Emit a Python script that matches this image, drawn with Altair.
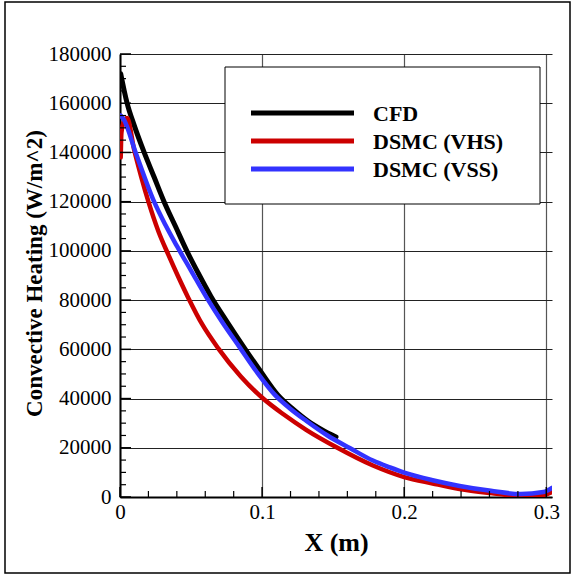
import altair as alt
import pandas as pd

# ---- data ----
cfd_x = [0.0005, 0.003, 0.005, 0.010, 0.017, 0.024, 0.031, 0.039, 0.047, 0.055, 0.064, 0.075,
         0.087, 0.099, 0.111, 0.122, 0.132, 0.142, 0.152]
cfd_y = [172000, 165000, 160000, 151000, 140000, 130000, 120000, 110000, 100000, 91000, 81500, 71500,
         61000, 51000, 41500, 35600, 31000, 27400, 24400]

vhs_x = [0.0005, 0.001, 0.003, 0.005, 0.010, 0.015, 0.020, 0.027, 0.034, 0.041, 0.048, 0.058,
         0.069, 0.085, 0.1007, 0.115, 0.131, 0.153, 0.178, 0.200, 0.220, 0.239,
         0.261, 0.282, 0.298, 0.304]
vhs_y = [138000, 148000, 153000, 154000, 141000, 130000, 120000, 108000, 98500, 89500, 81000, 70000,
         60500, 49000, 40000, 33600, 27300, 20000, 12800, 8100, 5500, 3250,
         1600, 400, 800, 2000]

vss_x = [0.0005, 0.003, 0.011, 0.024, 0.032, 0.040, 0.050, 0.061, 0.072, 0.084,
         0.096, 0.109, 0.120, 0.131, 0.146, 0.162, 0.178, 0.190, 0.200, 0.220, 0.239, 0.261,
         0.282, 0.298, 0.304]
vss_y = [155000, 153000, 140000, 120000, 110500, 102000, 92000, 81000, 71000, 61000,
         51000, 41500, 35800, 31000, 25000, 19800, 14800, 12000, 9900, 6800, 4500, 2500,
         1200, 2000, 3700]

series_names = ["CFD", "DSMC (VHS)", "DSMC (VSS)"]
series_colors = ["#000000", "#cc0000", "#3333ff"]

x_major = [0, 0.1, 0.2, 0.3]
x_minor = [0.02, 0.04, 0.06, 0.08, 0.12, 0.14, 0.16, 0.18, 0.22, 0.24, 0.26, 0.28]
y_major = list(range(0, 180001, 20000))
y_minor = [v for v in range(0, 180001, 5000) if v % 20000 != 0]

FONT = "Liberation Serif"
W, H = 432, 443
XDOM = [0, 0.304]
YDOM = [0, 180000]

xs = alt.Scale(domain=XDOM, nice=False, zero=False)
ys = alt.Scale(domain=YDOM, nice=False)

x_axis = alt.Axis(
    values=x_major, format="~g", title="X (m)", grid=True, gridColor="#555555", gridWidth=1.2,
    ticks=False, domain=True, domainColor="#000000", domainWidth=2,
    labelFont=FONT, labelFontSize=21, labelColor="#000000", labelPadding=4,
    labelFlush=False,
    titleFont=FONT, titleFontSize=26, titleFontWeight="bold", titleColor="#000000",
    titleBaseline="alphabetic", titleY=53, titleX=W / 2, titleAlign="center",
)
y_axis = alt.Axis(
    values=y_major, format="d", title="Convective Heating (W/m^2)", grid=True,
    gridColor="#222222", gridWidth=1,
    ticks=False, domain=True, domainColor="#000000", domainWidth=2,
    labelFont=FONT, labelFontSize=21, labelColor="#000000", labelPadding=9,
    labelBaseline="middle", labelFlush=False,
    titleFont=FONT, titleFontSize=23, titleFontWeight="bold", titleColor="#000000",
    titleAngle=270, titleX=-86, titleY=219, titleAlign="center", titleBaseline="middle",
)


def series_layer(xv, yv, color, width):
    df = pd.DataFrame({"x": xv, "y": yv, "i": range(len(xv))})
    return alt.Chart(df).mark_line(color=color, strokeWidth=width, strokeJoin="round",
                                   strokeCap="round", interpolate="monotone", clip=True).encode(
        x=alt.X("x:Q", scale=xs, axis=x_axis),
        y=alt.Y("y:Q", scale=ys, axis=y_axis),
        order="i:Q")


cfd = series_layer(cfd_x, cfd_y, series_colors[0], 5)
vhs = series_layer(vhs_x, vhs_y, series_colors[1], 4.5)
vss = series_layer(vss_x, vss_y, series_colors[2], 4.5)

# inward ticks
xt_major = alt.Chart(pd.DataFrame({"t": x_major})).mark_rule(color="#000", strokeWidth=1.5).encode(
    x=alt.X("t:Q", scale=xs, axis=x_axis), y=alt.value(H), y2=alt.value(H - 10))
xt_minor = alt.Chart(pd.DataFrame({"t": x_minor})).mark_rule(color="#000", strokeWidth=1.2).encode(
    x=alt.X("t:Q", scale=xs, axis=x_axis), y=alt.value(H), y2=alt.value(H - 6))
yt_major = alt.Chart(pd.DataFrame({"t": y_major})).mark_rule(color="#000", strokeWidth=1.5).encode(
    y=alt.Y("t:Q", scale=ys, axis=y_axis), x=alt.value(0), x2=alt.value(11))
yt_minor = alt.Chart(pd.DataFrame({"t": y_minor})).mark_rule(color="#000", strokeWidth=1.2).encode(
    y=alt.Y("t:Q", scale=ys, axis=y_axis), x=alt.value(0), x2=alt.value(6))

one = pd.DataFrame({"a": [0]})

# legend box
legend_box = alt.Chart(one).mark_rect(fill="white", stroke="#000", strokeWidth=1).encode(
    x=alt.value(105), x2=alt.value(420), y=alt.value(13), y2=alt.value(150))

legend_layers = []
for k, (name, col) in enumerate(zip(series_names, series_colors)):
    yy = 59 + 28 * k
    legend_layers.append(
        alt.Chart(one).mark_rule(color=col, strokeWidth=5).encode(
            x=alt.value(131), x2=alt.value(234), y=alt.value(yy)))
    legend_layers.append(
        alt.Chart(one).mark_text(text=name, font=FONT, fontSize=22, fontWeight="bold",
                                 align="left", baseline="middle", color="#000").encode(
            x=alt.value(253), y=alt.value(yy + 1)))

# outer frame
frame = alt.Chart(one).mark_rect(fill=None, stroke="#000", strokeWidth=1.5).encode(
    x=alt.value(-115), x2=alt.value(450), y=alt.value(-52), y2=alt.value(519))

chart = alt.layer(
    cfd, vhs, vss, xt_major, xt_minor, yt_major, yt_minor, legend_box, *legend_layers, frame
).properties(
    width=W, height=H,
    autosize=alt.AutoSizeParams(type="none"),
    padding={"left": 120, "top": 54, "right": 23, "bottom": 80},
    background="white",
).configure_view(stroke=None)

chart.save("out.html", embed_options={"renderer": "svg", "actions": False})
